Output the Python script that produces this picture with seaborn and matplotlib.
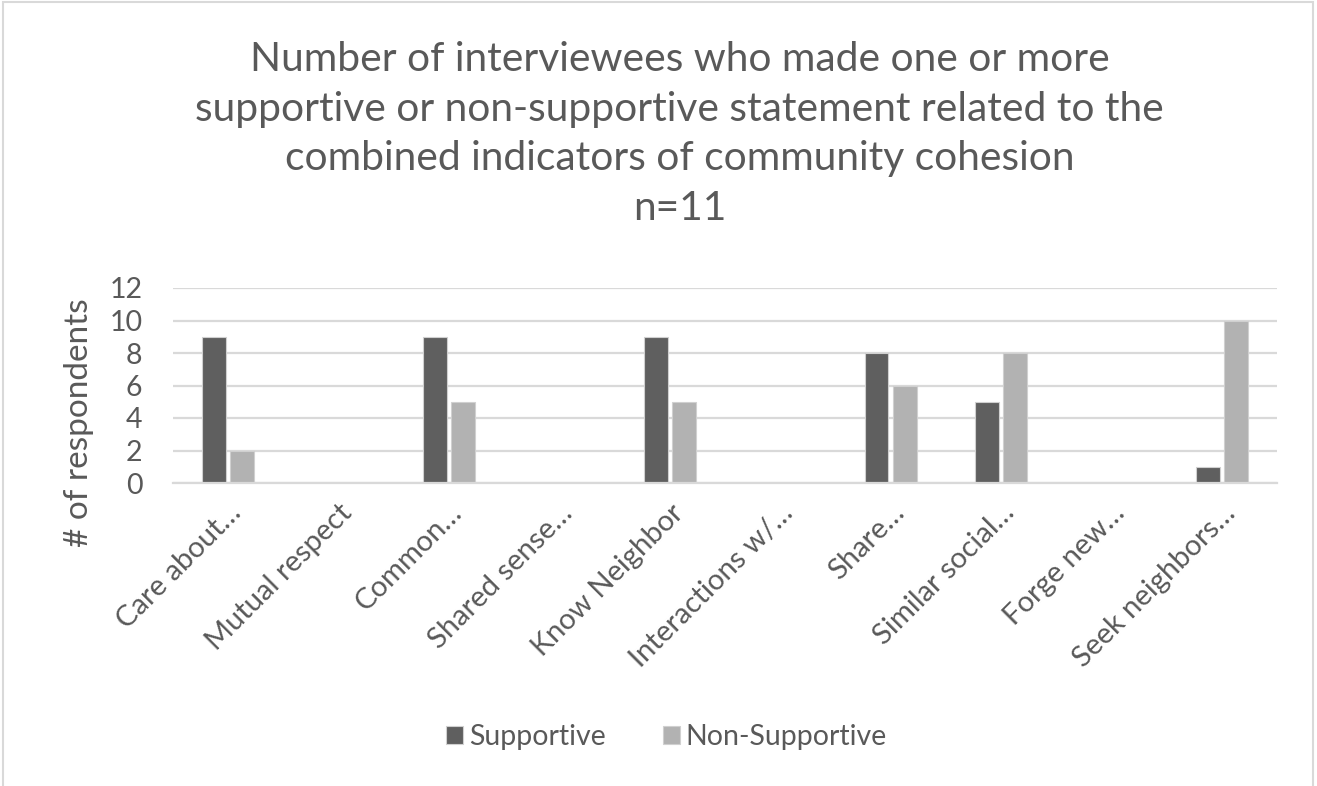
import numpy as np
import pandas as pd
import matplotlib
matplotlib.use("Agg")
import matplotlib.pyplot as plt
import seaborn as sns
from matplotlib.patches import Rectangle

categories = ["Care about\u2026", "Mutual respect", "Common\u2026", "Shared sense\u2026",
              "Know Neighbor", "Interactions w/\u2026", "Share\u2026", "Similar social\u2026",
              "Forge new\u2026", "Seek neighbors\u2026"]
supportive = [9, np.nan, 9, np.nan, 9, np.nan, 8, 5, np.nan, 1]
non_supportive = [2, np.nan, 5, np.nan, 5, np.nan, 6, 8, np.nan, 10]
series_names = ["Supportive", "Non-Supportive"]
colors = ["#5f5f5f", "#b2b2b2"]
title = ("Number of interviewees who made one or more\n"
         "supportive or non-supportive statement related to the\n"
         "combined indicators of community cohesion\nn=11")

df = pd.DataFrame({
    "category": categories * 2,
    "value": supportive + non_supportive,
    "series": [series_names[0]] * len(categories) + [series_names[1]] * len(categories),
})

sns.set_theme(style="white")
plt.rcParams['font.family'] = ['Lato', 'DejaVu Sans']
txt = "#595959"

fig = plt.figure(figsize=(13.17, 7.86), dpi=100)
ax = fig.add_axes([173 / 1317, 1 - 483 / 786, (1277 - 173) / 1317, (483 - 288) / 786])

sns.barplot(data=df, x="category", y="value", hue="series", palette=colors,
            width=0.51, gap=0.15, ax=ax, order=categories, hue_order=series_names,
            edgecolor="#d0d0d0", linewidth=0.8, legend=True)

ax.set_ylim(0, 12)
ax.set_yticks(range(0, 13, 2))
ax.set_xlim(-0.5, len(categories) - 0.5)
ax.yaxis.grid(True, color="#d9d9d9", linewidth=1.6)
ax.set_axisbelow(True)
for s in ["top", "right", "left"]:
    ax.spines[s].set_visible(False)
ax.spines["bottom"].set_color("#d9d9d9")
ax.spines["bottom"].set_linewidth(1.6)
ax.tick_params(axis="y", labelsize=20.5, colors=txt, length=0, pad=22)
ax.tick_params(axis="x", labelsize=21, colors=txt, length=0, pad=12)
plt.setp(ax.get_yticklabels(), ha="right")
plt.setp(ax.get_xticklabels(), rotation=45, ha="right", rotation_mode="anchor")
ax.set_xlabel("")
ax.set_ylabel("# of respondents", fontsize=24, color=txt)
ax.yaxis.set_label_coords(-0.0716, 0.308)

handles, labels = ax.get_legend_handles_labels()
ax.legend_.remove()
fig.legend(handles, labels, loc="center", bbox_to_anchor=(0.506, 0.062), ncol=2,
           frameon=False, fontsize=20.5, labelcolor=txt, handlelength=0.6,
           handleheight=0.6, handletextpad=0.2, columnspacing=2.0)

fig.text(0.516, 1 - 134 / 786, title, ha="center", va="center", fontsize=29.3,
         color=txt, linespacing=1.42)

fig.patches.append(Rectangle((0.002, -0.05), 0.995, 1.047, transform=fig.transFigure,
                             fill=False, edgecolor="#d9d9d9", linewidth=1.5))

fig.savefig("out.png", dpi=100)
